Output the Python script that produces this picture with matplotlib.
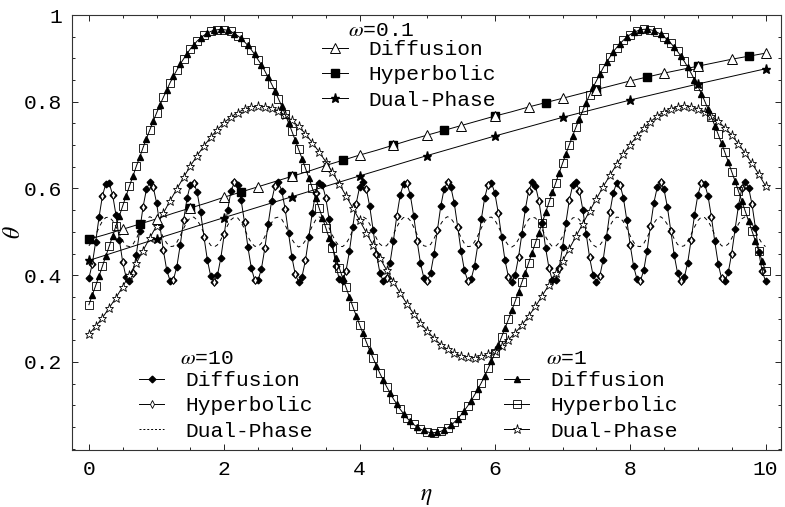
import numpy as np
import matplotlib
matplotlib.use('Agg')
import matplotlib.pyplot as plt
from matplotlib.lines import Line2D
from matplotlib.font_manager import FontProperties
from matplotlib.ticker import FixedLocator, FixedFormatter, MultipleLocator

plt.rcParams['mathtext.fontset'] = 'stix'
plt.rcParams['font.family'] = ['Liberation Mono', 'DejaVu Sans Mono']

# ---------------- data ----------------
# omega = 10 : sampled every 0.05 in eta
eta_w10 = np.linspace(0, 10, 201)
theta_w10_diff = [  # Diffusion and Hyperbolic lie on top of each other
    0.393, 0.426, 0.477, 0.534, 0.583, 0.611, 0.612, 0.586, 0.539, 0.482, 0.430, 0.395, 0.386, 0.404, 0.447, 0.502, 0.557, 0.598, 0.615, 0.604, 0.567, 0.514, 0.458, 0.412, 0.387,
    0.390, 0.420, 0.470, 0.527, 0.577, 0.609, 0.613, 0.591, 0.546, 0.489, 0.436, 0.398, 0.385, 0.400, 0.440, 0.494, 0.550, 0.594, 0.614, 0.607, 0.573, 0.522, 0.465, 0.417, 0.389,
    0.388, 0.415, 0.462, 0.519, 0.571, 0.606, 0.614, 0.595, 0.553, 0.497, 0.442, 0.402, 0.385, 0.397, 0.434, 0.487, 0.543, 0.589, 0.613, 0.609, 0.579, 0.529, 0.472, 0.422, 0.391,
    0.387, 0.410, 0.455, 0.512, 0.565, 0.603, 0.615, 0.599, 0.559, 0.505, 0.449, 0.406, 0.386, 0.394, 0.428, 0.479, 0.536, 0.584, 0.611, 0.612, 0.585, 0.537, 0.480, 0.428, 0.394,
    0.386, 0.405, 0.448, 0.504, 0.559, 0.599, 0.615, 0.603, 0.566, 0.512, 0.456, 0.411, 0.387, 0.391, 0.422, 0.472, 0.529, 0.579, 0.609, 0.613, 0.589, 0.544, 0.488, 0.434, 0.397,
    0.385, 0.401, 0.442, 0.496, 0.552, 0.595, 0.614, 0.606, 0.572, 0.520, 0.463, 0.416, 0.388, 0.389, 0.416, 0.464, 0.521, 0.573, 0.607, 0.614, 0.594, 0.551, 0.495, 0.441, 0.401,
    0.385, 0.398, 0.435, 0.489, 0.545, 0.590, 0.613, 0.609, 0.578, 0.527, 0.470, 0.421, 0.391, 0.387, 0.411, 0.457, 0.514, 0.567, 0.603, 0.615, 0.598, 0.557, 0.503, 0.447, 0.405,
    0.386, 0.395, 0.429, 0.481, 0.538, 0.585, 0.612, 0.611, 0.583, 0.535, 0.478, 0.427, 0.393, 0.386, 0.407, 0.450, 0.506, 0.560, 0.600, 0.615, 0.602, 0.564, 0.510, 0.454, 0.409,
    0.387,
]
theta_w10_dual = [
    0.468, 0.478, 0.493, 0.510, 0.525, 0.533, 0.534, 0.526, 0.512, 0.495, 0.479, 0.468, 0.466, 0.471, 0.484, 0.501, 0.517, 0.529, 0.535, 0.531, 0.520, 0.504, 0.487, 0.474, 0.466,
    0.467, 0.476, 0.491, 0.508, 0.523, 0.533, 0.534, 0.527, 0.514, 0.497, 0.481, 0.469, 0.465, 0.470, 0.482, 0.498, 0.515, 0.528, 0.534, 0.532, 0.522, 0.507, 0.489, 0.475, 0.467,
    0.466, 0.474, 0.489, 0.506, 0.521, 0.532, 0.534, 0.529, 0.516, 0.499, 0.483, 0.471, 0.465, 0.469, 0.480, 0.496, 0.513, 0.527, 0.534, 0.533, 0.524, 0.509, 0.492, 0.477, 0.467,
    0.466, 0.473, 0.486, 0.504, 0.520, 0.531, 0.535, 0.530, 0.518, 0.502, 0.485, 0.472, 0.466, 0.468, 0.478, 0.494, 0.511, 0.525, 0.533, 0.534, 0.526, 0.511, 0.494, 0.478, 0.468,
    0.466, 0.471, 0.484, 0.501, 0.518, 0.530, 0.535, 0.531, 0.520, 0.504, 0.487, 0.473, 0.466, 0.467, 0.477, 0.492, 0.509, 0.524, 0.533, 0.534, 0.527, 0.513, 0.496, 0.480, 0.469,
    0.465, 0.470, 0.483, 0.499, 0.516, 0.529, 0.534, 0.532, 0.522, 0.506, 0.489, 0.475, 0.466, 0.467, 0.475, 0.489, 0.506, 0.522, 0.532, 0.534, 0.528, 0.515, 0.498, 0.482, 0.470,
    0.465, 0.469, 0.480, 0.497, 0.514, 0.527, 0.534, 0.533, 0.523, 0.508, 0.491, 0.476, 0.467, 0.466, 0.473, 0.487, 0.504, 0.520, 0.531, 0.535, 0.529, 0.517, 0.501, 0.484, 0.471,
    0.466, 0.468, 0.479, 0.494, 0.511, 0.526, 0.534, 0.533, 0.525, 0.511, 0.493, 0.478, 0.468, 0.466, 0.472, 0.485, 0.502, 0.518, 0.530, 0.535, 0.531, 0.519, 0.503, 0.486, 0.473,
    0.466,
]

# omega = 1 : Diffusion / Hyperbolic sampled every 0.05, Dual-Phase every 0.1
eta_w1 = np.linspace(0, 10, 201)
theta_w1_diff = [
    0.332, 0.354, 0.376, 0.398, 0.421, 0.444, 0.467, 0.490, 0.514, 0.537,
    0.560, 0.583, 0.606, 0.628, 0.651, 0.672, 0.694, 0.715, 0.735, 0.755,
    0.774, 0.793, 0.810, 0.827, 0.844, 0.859, 0.873, 0.887, 0.899, 0.911,
    0.922, 0.931, 0.940, 0.947, 0.953, 0.958, 0.962, 0.965, 0.966, 0.967,
    0.966, 0.965, 0.962, 0.957, 0.952, 0.946, 0.938, 0.930, 0.920, 0.909,
    0.897, 0.885, 0.871, 0.856, 0.841, 0.825, 0.807, 0.790, 0.771, 0.752,
    0.732, 0.711, 0.690, 0.669, 0.647, 0.625, 0.602, 0.579, 0.556, 0.533,
    0.510, 0.486, 0.463, 0.440, 0.417, 0.394, 0.372, 0.350, 0.328, 0.307,
    0.286, 0.266, 0.246, 0.227, 0.209, 0.191, 0.174, 0.158, 0.143, 0.129,
    0.115, 0.103, 0.091, 0.081, 0.071, 0.063, 0.056, 0.050, 0.045, 0.042,
    0.039, 0.037, 0.037, 0.038, 0.040, 0.044, 0.048, 0.054, 0.061, 0.069,
    0.078, 0.088, 0.099, 0.111, 0.124, 0.138, 0.152, 0.168, 0.185, 0.202,
    0.220, 0.238, 0.258, 0.278, 0.298, 0.319, 0.340, 0.362, 0.384, 0.406,
    0.429, 0.452, 0.475, 0.498, 0.521, 0.545, 0.568, 0.591, 0.613, 0.636,
    0.658, 0.680, 0.701, 0.722, 0.742, 0.761, 0.780, 0.798, 0.816, 0.833,
    0.848, 0.863, 0.878, 0.891, 0.903, 0.915, 0.925, 0.934, 0.942, 0.949,
    0.955, 0.960, 0.963, 0.966, 0.967, 0.967, 0.966, 0.964, 0.960, 0.956,
    0.950, 0.943, 0.935, 0.926, 0.916, 0.905, 0.893, 0.880, 0.866, 0.851,
    0.836, 0.819, 0.802, 0.783, 0.765, 0.745, 0.725, 0.704, 0.683, 0.661,
    0.639, 0.617, 0.594, 0.571, 0.548, 0.525, 0.502, 0.479, 0.456, 0.433,
    0.410,
]
eta_w1_dual = np.linspace(0, 10, 101)
theta_w1_dual = [
    0.264, 0.282, 0.302, 0.325, 0.348, 0.374, 0.401, 0.428, 0.457, 0.486,
    0.514, 0.543, 0.572, 0.599, 0.626, 0.652, 0.676, 0.698, 0.718, 0.736,
    0.752, 0.765, 0.775, 0.783, 0.788, 0.790, 0.789, 0.785, 0.779, 0.769,
    0.757, 0.743, 0.726, 0.706, 0.685, 0.662, 0.637, 0.611, 0.583, 0.555,
    0.527, 0.498, 0.469, 0.440, 0.412, 0.385, 0.359, 0.334, 0.311, 0.290,
    0.271, 0.255, 0.240, 0.229, 0.220, 0.214, 0.211, 0.210, 0.213, 0.218,
    0.226, 0.237, 0.251, 0.267, 0.285, 0.306, 0.328, 0.353, 0.378, 0.405,
    0.433, 0.461, 0.490, 0.519, 0.548, 0.576, 0.604, 0.630, 0.656, 0.679,
    0.701, 0.721, 0.739, 0.754, 0.767, 0.777, 0.784, 0.788, 0.790, 0.789,
    0.784, 0.777, 0.768, 0.755, 0.740, 0.723, 0.703, 0.681, 0.658, 0.633,
    0.606,
]

# omega = 0.1 : Diffusion / Hyperbolic every 0.25, Dual-Phase every 1
eta_w01 = np.linspace(0, 10, 41)
theta_w01_diff = [
    0.483, 0.494, 0.506, 0.518, 0.530, 0.543, 0.555, 0.567, 0.580, 0.592,
    0.604, 0.616, 0.628, 0.640, 0.653, 0.665, 0.677, 0.688, 0.700, 0.712,
    0.723, 0.734, 0.745, 0.756, 0.767, 0.777, 0.788, 0.798, 0.808, 0.818,
    0.828, 0.838, 0.848, 0.857, 0.866, 0.874, 0.882, 0.890, 0.898, 0.905,
    0.912,
]
eta_w01_dual = np.linspace(0, 10, 11)
theta_w01_dual = [0.434, 0.484, 0.533, 0.581, 0.629, 0.676, 0.721, 0.764, 0.804, 0.841, 0.876]

x_ticks = [0, 2, 4, 6, 8, 10]
y_ticks = [0.2, 0.4, 0.6, 0.8, 1.0]
y_tick_labels = ['0.2', '0.4', '0.6', '0.8', '1']
names = ['Diffusion', 'Hyperbolic', 'Dual-Phase']

# ---------------- figure ----------------
fig = plt.figure(figsize=(7.85, 5.07), dpi=100)
ax = fig.add_axes([0.0917, 0.1124, 0.9033, 0.858])

lw = 0.7
k = 'black'

# omega = 10
ax.plot(eta_w10, theta_w10_dual, color=k, lw=lw, dashes=(4, 4))
ax.plot(eta_w10, theta_w10_diff, color=k, lw=lw, marker='D', ms=3.4, mfc=k, mec=k)
ax.plot(eta_w10, theta_w10_diff, ls='none', marker='d', ms=4.2, mfc='white', mec=k,
        mew=0.6, markevery=(1, 3))

# omega = 1
ax.plot(eta_w1_dual, theta_w1_dual, color=k, lw=lw, marker='*', ms=6.5, mfc='white',
        mec=k, mew=0.6)
ax.plot(eta_w1, theta_w1_diff, color=k, lw=lw, marker='s', ms=5.2, mfc='none', mec=k,
        mew=0.6, markevery=(0, 2))
ax.plot(eta_w1, theta_w1_diff, ls='none', marker='^', ms=4.2, mfc=k, mec=k,
        markevery=(1, 2))

# omega = 0.1
ax.plot(eta_w01, theta_w01_diff, color=k, lw=lw, marker='s', ms=5.2, mfc=k, mec=k,
        markevery=(0, 3))
ax.plot(eta_w01, theta_w01_diff, ls='none', marker='^', ms=6.8, mfc='white', mec=k,
        mew=0.7, markevery=(2, 2))
ax.plot(eta_w01_dual, theta_w01_dual, color=k, lw=lw, marker='*', ms=6.5, mfc=k, mec=k)

# axes styling
ax.set_xlim(-0.25, 10.23)
ax.set_ylim(-0.003, 1.0)
ax.xaxis.set_major_locator(FixedLocator(x_ticks))
ax.xaxis.set_minor_locator(MultipleLocator(0.5))
ax.yaxis.set_major_locator(FixedLocator(y_ticks))
ax.yaxis.set_major_formatter(FixedFormatter(y_tick_labels))
ax.yaxis.set_minor_locator(MultipleLocator(0.05))
ax.tick_params(which='both', direction='in', top=True, right=True, width=0.6,
               colors='black', labelsize=15.3)
ax.tick_params(which='major', length=4.5, pad=7)
ax.tick_params(which='minor', length=2.5)
for s in ax.spines.values():
    s.set_linewidth(0.8)
    s.set_color('#333333')

ax.set_xlabel(r'$\eta$', fontsize=17, labelpad=3.5)
ax.set_ylabel(r'$\theta$', fontsize=17, labelpad=-0.5)

# legends (titles drawn as separate texts)
mono = FontProperties(family='Liberation Mono', size=15.3)
leg_kw = dict(prop=mono, frameon=False, numpoints=1, handlelength=1.2,
              handletextpad=1.0, labelspacing=0.29, borderpad=0, borderaxespad=0,
              loc='upper left')

h01 = [Line2D([], [], color=k, lw=lw, marker='^', ms=6.8, mfc='white', mec=k, mew=0.7),
       Line2D([], [], color=k, lw=lw, marker='s', ms=5.2, mfc=k, mec=k),
       Line2D([], [], color=k, lw=lw, marker='*', ms=6.5, mfc=k, mec=k)]
h10 = [Line2D([], [], color=k, lw=lw, marker='D', ms=3.4, mfc=k, mec=k),
       Line2D([], [], color=k, lw=lw, marker='d', ms=4.2, mfc='white', mec=k, mew=0.6),
       Line2D([], [], color=k, lw=lw, dashes=(2, 2))]
h1 = [Line2D([], [], color=k, lw=lw, marker='^', ms=4.2, mfc=k, mec=k),
      Line2D([], [], color=k, lw=lw, marker='s', ms=5.2, mfc='none', mec=k, mew=0.6),
      Line2D([], [], color=k, lw=lw, marker='*', ms=6.5, mfc='white', mec=k, mew=0.6)]

leg1 = ax.legend(h01, names, bbox_to_anchor=(0.3526, 0.942), **leg_kw)
ax.add_artist(leg1)
leg2 = ax.legend(h10, names, bbox_to_anchor=(0.0945, 0.181), **leg_kw)
ax.add_artist(leg2)
leg3 = ax.legend(h1, names, bbox_to_anchor=(0.609, 0.181), **leg_kw)

ax.text(0.389, 0.965, r'$\omega$=0.1', transform=ax.transAxes, fontproperties=mono,
        ha='left', va='center')
ax.text(0.152, 0.2115, r'$\omega$=10', transform=ax.transAxes, fontproperties=mono,
        ha='left', va='center')
ax.text(0.669, 0.2115, r'$\omega$=1', transform=ax.transAxes, fontproperties=mono,
        ha='left', va='center')

fig.savefig('out.png', dpi=100)
